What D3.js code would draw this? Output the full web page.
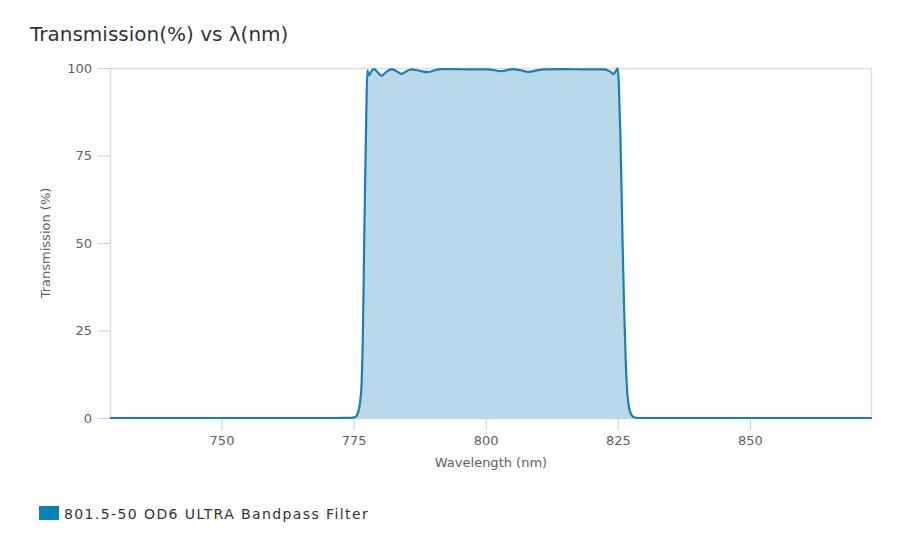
<!DOCTYPE html>
<html>
<head>
<meta charset="utf-8">
<script src="https://cdn.jsdelivr.net/npm/d3@7"></script>
<style>
  html, body { margin: 0; padding: 0; background: #fff; }
  svg { display: block; font-family: "DejaVu Sans", sans-serif; }
</style>
</head>
<body>
<svg id="chart" width="902" height="551"></svg>
<script>
// ---- data ----
const titleText = "Transmission(%) vs λ(nm)";
const seriesName = "801.5-50 OD6 ULTRA Bandpass Filter";
const xTicks = [750, 775, 800, 825, 850];
const yTicks = [0, 25, 50, 75, 100];
const wavelength = [
  728.9, 750, 770, 773, 774.5, 775.3, 775.7, 776.0, 776.3, 776.5, 776.7, 776.85, 777.0, 777.2, 777.4, 777.6,
  777.95, 778.4, 778.9, 779.6, 780.3, 781.2, 782.2, 783.2, 784.1, 785.0, 786.0, 787.5, 789.0, 790.2,
  791.4, 794.0, 797.0, 800.5, 803.0, 805.0, 806.5, 808.1, 809.6, 811.0, 815.0, 819.0, 822.5, 823.5,
  824.2, 824.7, 825.0, 825.2, 825.5, 825.9, 826.2, 826.5, 826.8, 827.2, 827.6, 828.2, 829.0, 850, 873.1
];
const transmission = [
  0, 0, 0, 0.02, 0.05, 0.3, 1, 2.5, 5.5, 9.5, 20, 33, 50, 69, 87, 99.3,
  97.9, 99.2, 99.7, 98.7, 97.8, 98.9, 99.7, 99.0, 98.3, 99.1, 99.6, 99.2, 98.8, 99.3,
  99.7, 99.7, 99.6, 99.6, 99.1, 99.7, 99.4, 98.9, 99.3, 99.6, 99.7, 99.6, 99.6, 99.0,
  98.3, 99.3, 99.9, 95, 80, 50, 31, 16, 7, 2.5, 0.8, 0.15, 0, 0, 0
];

// ---- layout ----
const svg = d3.select("#chart");
const m = { left: 110, right: 872, top: 68, bottom: 418 };
const x = d3.scaleLinear().domain([728.9, 873.1]).range([m.left, m.right]);
const y = d3.scaleLinear().domain([0, 100]).range([m.bottom, m.top]);
const data = wavelength.map((w, i) => ({ w, t: transmission[i] }));

// title
svg.append("text").attr("x", 30).attr("y", 41)
  .attr("font-size", 20).attr("fill", "#333").text(titleText);

// plot border
svg.append("line").attr("x1", m.left).attr("x2", m.right).attr("y1", m.top + 0.5).attr("y2", m.top + 0.5)
  .attr("stroke", "#e0dcd8").attr("stroke-width", 1.5);
svg.append("line").attr("x1", m.right - 0.5).attr("x2", m.right - 0.5).attr("y1", m.top).attr("y2", m.bottom)
  .attr("stroke", "#e0dcd8").attr("stroke-width", 1.5);

// area + line
const area = d3.area().x(d => x(d.w)).y0(y(0)).y1(d => y(d.t)).curve(d3.curveMonotoneX);
const line = d3.line().x(d => x(d.w)).y(d => y(d.t)).curve(d3.curveMonotoneX);

// y axis
const yAxis = d3.axisLeft(y).tickValues(yTicks).tickSize(12).tickSizeOuter(0).tickPadding(6);
const gy = svg.append("g").attr("transform", `translate(${m.left},0)`).call(yAxis);
gy.select(".domain").attr("stroke", "#e0dcd8").attr("stroke-width", 1.5);
gy.selectAll(".tick line").attr("stroke", "#c0d0e0");
gy.selectAll(".tick text").attr("font-size", 13).attr("fill", "#606060").attr("font-family", "DejaVu Sans");

// x axis
const xAxis = d3.axisBottom(x).tickValues(xTicks).tickSize(12).tickSizeOuter(0).tickPadding(6);
const gx = svg.append("g").attr("transform", `translate(0,${m.bottom})`).call(xAxis);
gx.select(".domain").attr("stroke", "#c0d0e0");
gx.selectAll(".tick line").attr("stroke", "#c0d0e0");
gx.selectAll(".tick text").attr("font-size", 13).attr("fill", "#606060").attr("font-family", "DejaVu Sans");

svg.append("path").datum(data).attr("d", area).attr("fill", "#b9d9e8");
svg.append("path").datum(data).attr("d", line).attr("fill", "none")
  .attr("stroke", "#1a7fb5").attr("stroke-width", 2.2).attr("stroke-linejoin", "round");

// axis titles
svg.append("text").attr("transform", `translate(50,${(m.top + m.bottom) / 2}) rotate(-90)`)
  .attr("text-anchor", "middle").attr("font-size", 13).attr("fill", "#606060").text("Transmission (%)");
svg.append("text").attr("x", (m.left + m.right) / 2).attr("y", 467)
  .attr("text-anchor", "middle").attr("font-size", 13).attr("fill", "#606060").text("Wavelength (nm)");

// legend
svg.append("rect").attr("x", 39).attr("y", 506).attr("width", 20).attr("height", 14).attr("fill", "#0a80b8");
svg.append("text").attr("x", 64).attr("y", 519).attr("font-size", 14).attr("letter-spacing", 1.4)
  .attr("fill", "#333").text(seriesName);
</script>
</body>
</html>
